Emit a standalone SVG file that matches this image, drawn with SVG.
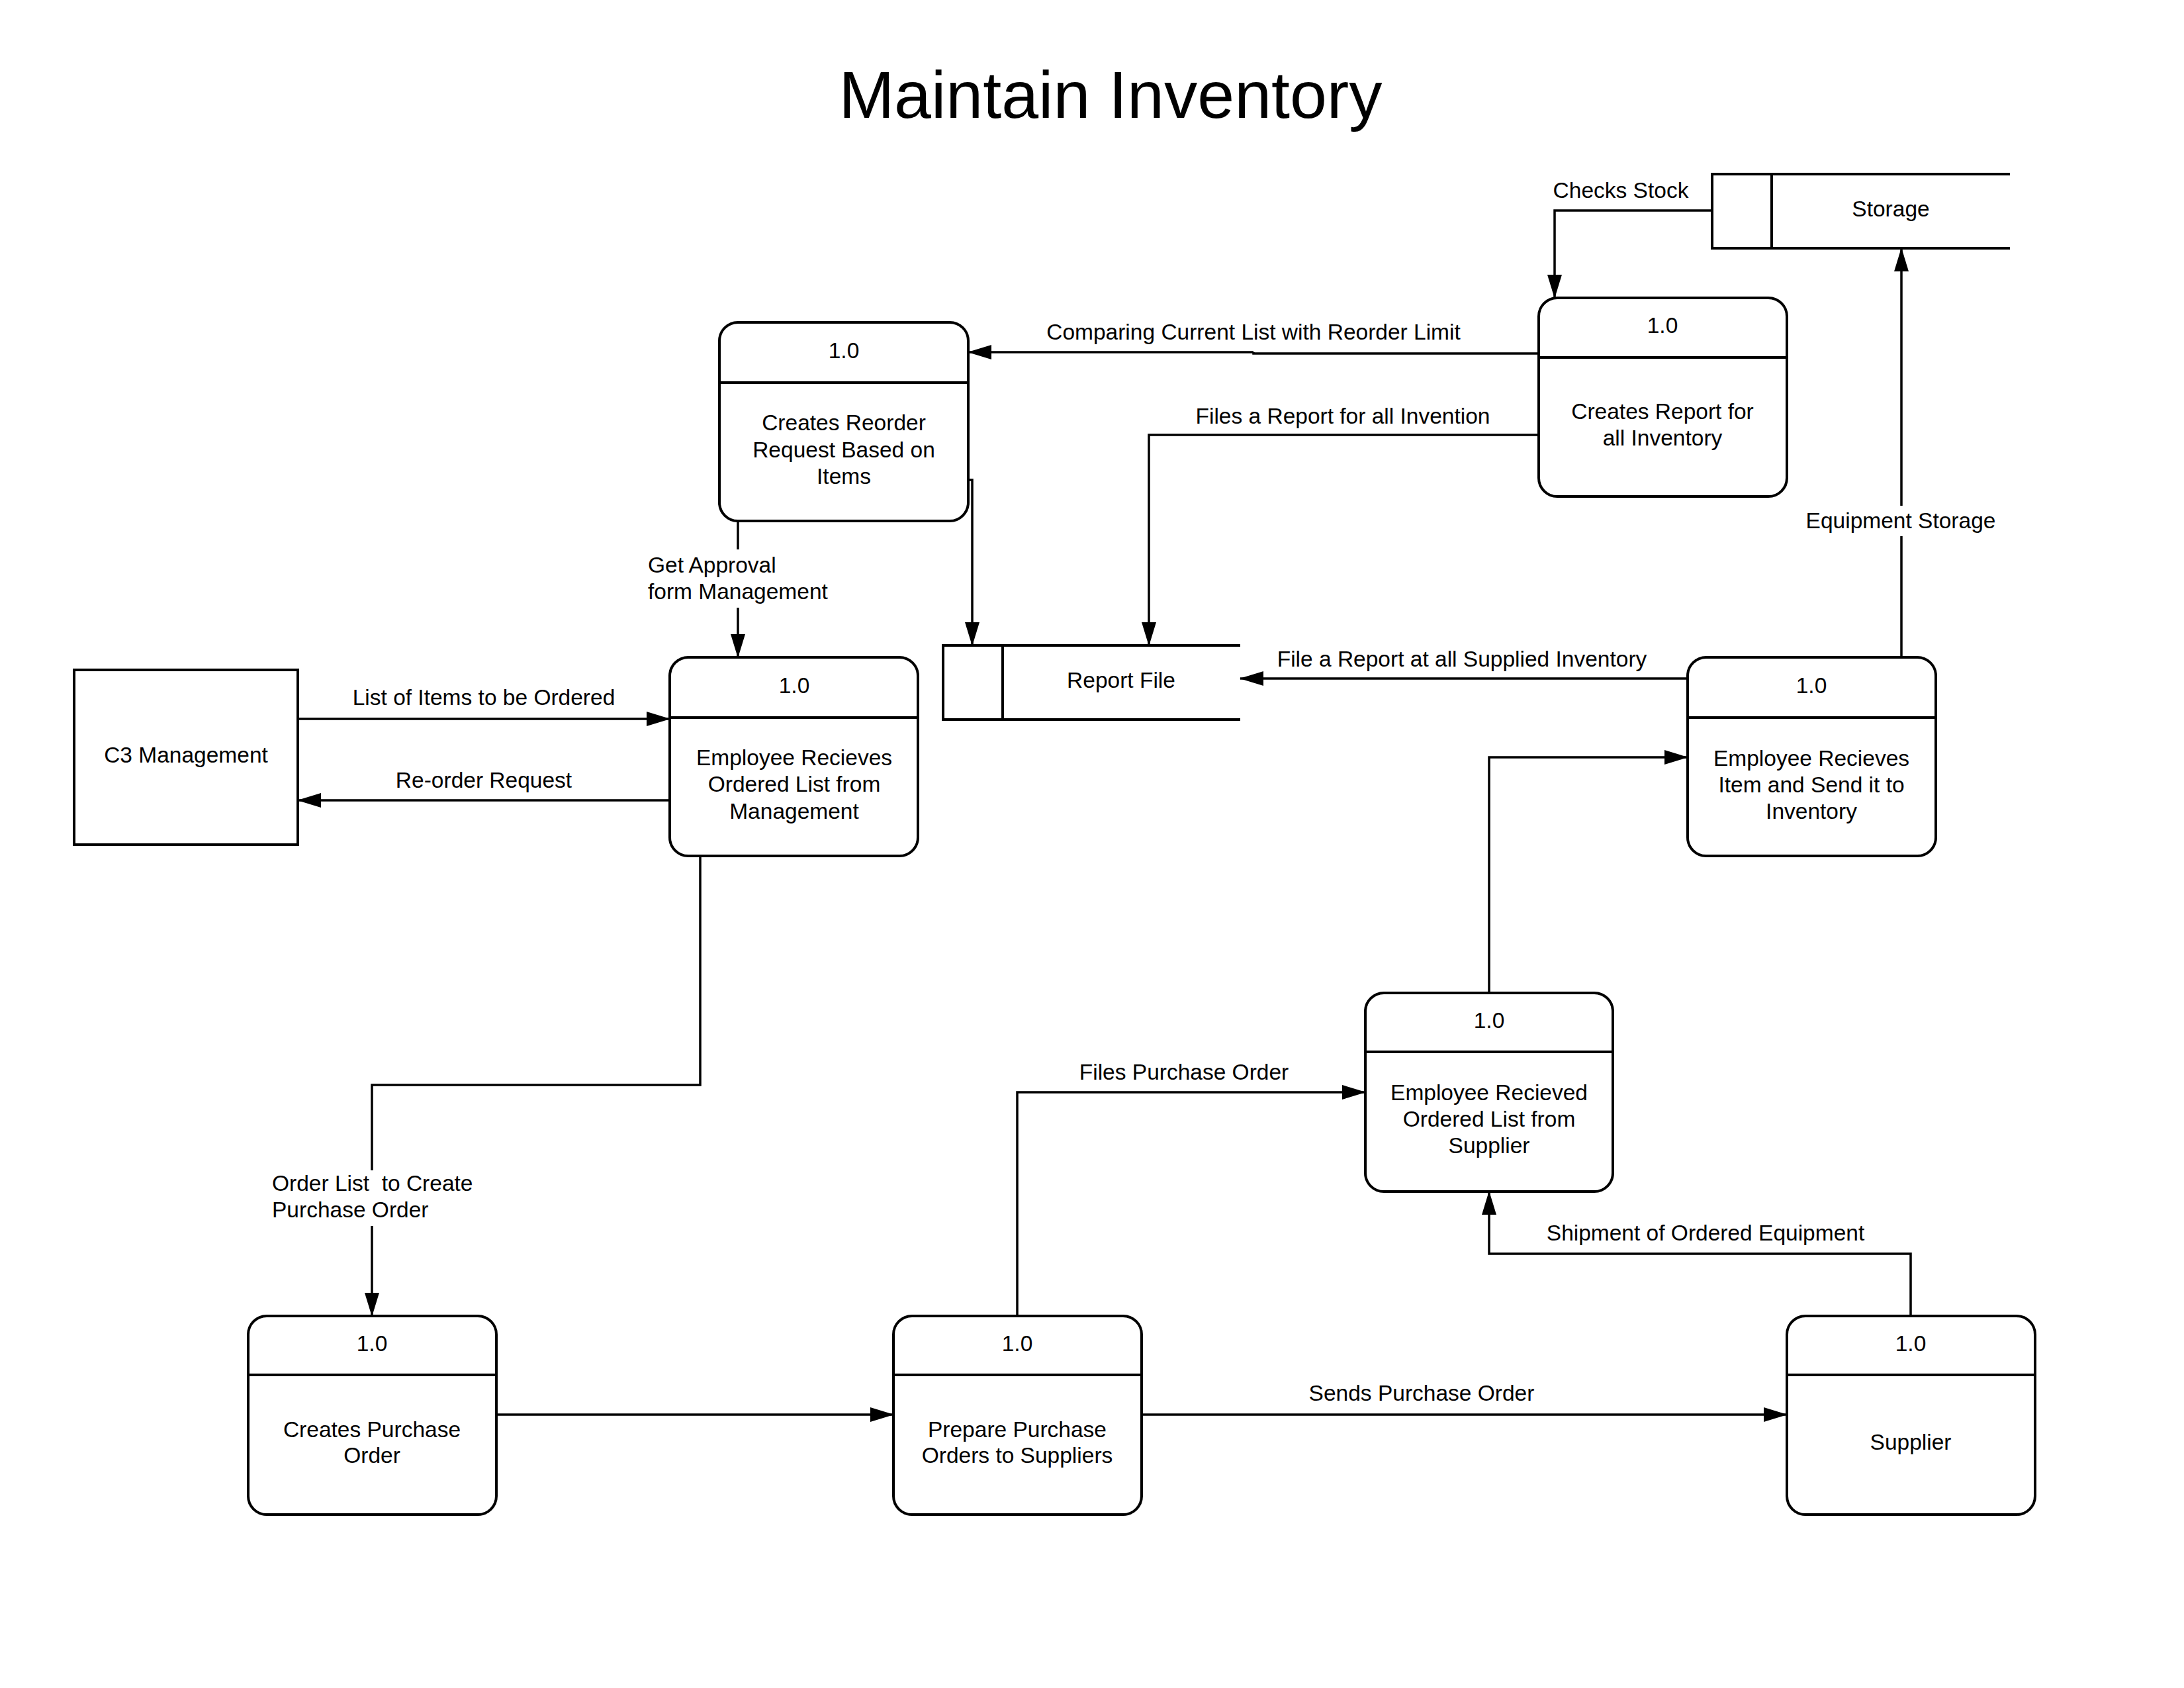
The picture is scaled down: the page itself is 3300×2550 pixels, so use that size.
<svg xmlns="http://www.w3.org/2000/svg" width="3300" height="2550" viewBox="0 0 3300 2550">
<defs>
<marker id="arr" markerUnits="userSpaceOnUse" markerWidth="36" markerHeight="22" refX="35" refY="11" orient="auto">
<path d="M0,0 L36,11 L0,22 z" fill="#000"/>
</marker>
<style>
text{font-family:"Liberation Sans",Arial,sans-serif;fill:#000;}
.t{font-size:33.5px;text-anchor:middle;}
.tl{font-size:33.5px;text-anchor:start;white-space:pre;}
.title{font-size:100.5px;text-anchor:middle;}
.box{fill:#fff;stroke:#000;stroke-width:4;}
.div{stroke:#000;stroke-width:4;fill:none;}
.ds{stroke:#000;stroke-width:4;fill:none;}
.c{stroke:#000;stroke-width:3.5;fill:none;marker-end:url(#arr);}
.cn{stroke:#000;stroke-width:3.5;fill:none;}
.bg{fill:#fff;stroke:none;}
</style>
</defs>
<rect width="3300" height="2550" fill="#fff"/>
<text class="title" x="1678" y="178">Maintain Inventory</text>

<g id="connectors">
<path class="c" d="M2587 318 H2349 V450"/>
<path class="cn" d="M2325 534 H1894 V532"/>
<path class="c" d="M1894 532 H1463"/>
<path class="c" d="M2325 657 H1736 V975"/>
<path class="c" d="M1463 725 H1469 V975"/>
<path class="c" d="M1115 787 V993"/>
<path class="c" d="M450 1086 H1012"/>
<path class="c" d="M1012 1209 H450"/>
<path class="c" d="M1058 1293 V1639 H562 V1988"/>
<path class="c" d="M750 2137 H1350"/>
<path class="c" d="M1725 2137 H2700"/>
<path class="c" d="M1537 1988 V1650 H2063"/>
<path class="c" d="M2250 1500 V1144 H2550"/>
<path class="c" d="M2887 1988 V1894 H2250 V1800"/>
<path class="c" d="M2550 1025 H1874"/>
<path class="c" d="M2873 993 V375"/>
<g id="labels">
<text class="t" x="2449" y="299">Checks Stock</text>
<text class="t" x="1894" y="513">Comparing Current List with Reorder Limit</text>
<text class="t" x="2029" y="640">Files a Report for all Invention</text>
<rect class="bg" x="975" y="830" width="282" height="88"/>
<text class="tl" x="979" y="865">Get Approval</text>
<text class="tl" x="979" y="905">form Management</text>
<text class="t" x="731" y="1065">List of Items to be Ordered</text>
<text class="t" x="731" y="1190">Re-order Request</text>
<rect class="bg" x="406" y="1768" width="312" height="84"/>
<text class="tl" x="411" y="1799" xml:space="preserve">Order List  to Create</text>
<text class="tl" x="411" y="1839">Purchase Order</text>
<text class="t" x="2148" y="2116">Sends Purchase Order</text>
<text class="t" x="1789" y="1631">Files Purchase Order</text>
<text class="t" x="2577" y="1874">Shipment of Ordered Equipment</text>
<text class="t" x="2209" y="1007">File a Report at all Supplied Inventory</text>
<rect class="bg" x="2725" y="764" width="296" height="46"/>
<text class="t" x="2872" y="798">Equipment Storage</text>
</g>
</g>

<g id="storage">
<path class="ds" d="M3037 263 H2587 V375 H3037 M2677 263 V375"/>
<text class="t" x="2857" y="327">Storage</text>
</g>

<g id="report-file">
<path class="ds" d="M1874 975 H1425 V1087 H1874 M1515 975 V1087"/>
<text class="t" x="1694" y="1039">Report File</text>
</g>

<g id="c3-management">
<rect class="box" x="112" y="1012" width="338" height="264"/>
<text class="t" x="281" y="1152">C3 Management</text>
</g>

<g id="n-reorder">
<rect class="box" x="1087" y="487" width="376" height="300" rx="28"/>
<line class="div" x1="1087" y1="578" x2="1463" y2="578"/>
<text class="t" x="1275" y="541">1.0</text>
<text class="t" x="1275" y="650">Creates Reorder</text>
<text class="t" x="1275" y="691">Request Based on</text>
<text class="t" x="1275" y="731">Items</text>
</g>

<g id="n-report">
<rect class="box" x="2325" y="450" width="375" height="300" rx="28"/>
<line class="div" x1="2325" y1="540" x2="2700" y2="540"/>
<text class="t" x="2512" y="503">1.0</text>
<text class="t" x="2512" y="633">Creates Report for</text>
<text class="t" x="2512" y="673">all Inventory</text>
</g>

<g id="n-emp-mgmt">
<rect class="box" x="1012" y="993" width="375" height="300" rx="28"/>
<line class="div" x1="1012" y1="1084" x2="1387" y2="1084"/>
<text class="t" x="1200" y="1047">1.0</text>
<text class="t" x="1200" y="1156">Employee Recieves</text>
<text class="t" x="1200" y="1196">Ordered List from</text>
<text class="t" x="1200" y="1237">Management</text>
</g>

<g id="n-emp-item">
<rect class="box" x="2550" y="993" width="375" height="300" rx="28"/>
<line class="div" x1="2550" y1="1084" x2="2925" y2="1084"/>
<text class="t" x="2737" y="1047">1.0</text>
<text class="t" x="2737" y="1157">Employee Recieves</text>
<text class="t" x="2737" y="1197">Item and Send it to</text>
<text class="t" x="2737" y="1237">Inventory</text>
</g>

<g id="n-emp-supplier">
<rect class="box" x="2063" y="1500" width="374" height="300" rx="28"/>
<line class="div" x1="2063" y1="1589" x2="2437" y2="1589"/>
<text class="t" x="2250" y="1553">1.0</text>
<text class="t" x="2250" y="1662">Employee Recieved</text>
<text class="t" x="2250" y="1702">Ordered List from</text>
<text class="t" x="2250" y="1742">Supplier</text>
</g>

<g id="n-create-po">
<rect class="box" x="375" y="1988" width="375" height="300" rx="28"/>
<line class="div" x1="375" y1="2077" x2="750" y2="2077"/>
<text class="t" x="562" y="2041">1.0</text>
<text class="t" x="562" y="2171">Creates Purchase</text>
<text class="t" x="562" y="2210">Order</text>
</g>

<g id="n-prepare-po">
<rect class="box" x="1350" y="1988" width="375" height="300" rx="28"/>
<line class="div" x1="1350" y1="2077" x2="1725" y2="2077"/>
<text class="t" x="1537" y="2041">1.0</text>
<text class="t" x="1537" y="2171">Prepare Purchase</text>
<text class="t" x="1537" y="2210">Orders to Suppliers</text>
</g>

<g id="n-supplier">
<rect class="box" x="2700" y="1988" width="375" height="300" rx="28"/>
<line class="div" x1="2700" y1="2077" x2="3075" y2="2077"/>
<text class="t" x="2887" y="2041">1.0</text>
<text class="t" x="2887" y="2190">Supplier</text>
</g>
</svg>
